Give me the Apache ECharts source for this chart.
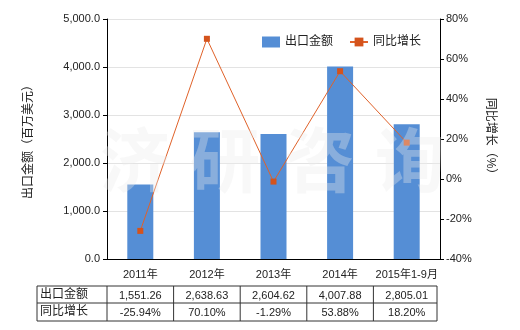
<!DOCTYPE html>
<html><head><meta charset="utf-8">
<script src="https://cdn.jsdelivr.net/npm/echarts@6/dist/echarts.min.js"></script>
<style>html,body{margin:0;padding:0;background:#fff}#c{width:520px;height:330px}</style>
</head><body><div id="c"></div>
<script>
var categories = ['2011年', '2012年', '2013年', '2014年', '2015年1-9月'];
var exportValues = [1551.26, 2638.63, 2604.62, 4007.88, 2805.01];
var growthValues = [-25.94, 70.10, -1.29, 53.88, 18.20];
var exportLabels = ['1,551.26', '2,638.63', '2,604.62', '4,007.88', '2,805.01'];
var growthLabels = ['-25.94%', '70.10%', '-1.29%', '53.88%', '18.20%'];
var seriesNames = ['出口金额', '同比增长'];
var leftAxisName = '出口金额（百万美元）';
var rightAxisName = '同比增长（%）';
var watermarkChars = ['济', '研', '咨', '询'];

var FONT = '"Liberation Sans","Noto Sans CJK SC",sans-serif';
var chart = echarts.init(document.getElementById('c'));
var option = {
  animation: false,
  backgroundColor: '#fff',
  textStyle: {fontFamily: FONT},
  grid: {left: 107, right: 80, top: 19, bottom: 71},
  legend: {
    left: 257, top: 31, itemGap: 16,
    textStyle: {fontSize: 12, color: '#222', fontFamily: FONT},
    data: [
      {name: seriesNames[0], icon: 'rect', itemStyle: {color: '#558ed5'}},
      {name: seriesNames[1]}
    ],
    itemWidth: 18, itemHeight: 11
  },
  xAxis: {
    type: 'category', data: categories,
    axisLine: {lineStyle: {color: '#000'}},
    axisTick: {alignWithLabel: true, length: 4, lineStyle: {color: '#000'}},
    axisLabel: {color: '#222', fontSize: 11, margin: 10, interval: 0, fontFamily: FONT}
  },
  yAxis: [{
    type: 'value', min: 0, max: 5000, interval: 1000,
    name: leftAxisName, nameLocation: 'middle', nameGap: 72,
    nameTextStyle: {fontSize: 12, color: '#222', fontFamily: FONT},
    axisLine: {show: true, lineStyle: {color: '#000'}},
    axisTick: {show: true, length: 4, lineStyle: {color: '#000'}},
    axisLabel: {color: '#222', fontSize: 11, margin: 7, fontFamily: FONT,
      formatter: function (v) { return v.toLocaleString('en-US', {minimumFractionDigits: 1, maximumFractionDigits: 1}); }},
    splitLine: {lineStyle: {color: '#e3e3e3'}}
  }, {
    type: 'value', min: -40, max: 80, interval: 20, position: 'right',
    name: rightAxisName, nameLocation: 'middle', nameGap: 44, nameRotate: -90,
    nameTextStyle: {fontSize: 12, color: '#222', fontFamily: FONT},
    axisLine: {show: true, lineStyle: {color: '#000'}},
    axisTick: {show: true, length: 4, lineStyle: {color: '#000'}},
    axisLabel: {color: '#222', fontSize: 11, margin: 6, fontFamily: FONT, formatter: '{value}%'},
    splitLine: {show: false}
  }],
  series: [{
    name: seriesNames[0], type: 'bar', data: exportValues, barWidth: 26,
    itemStyle: {color: '#558ed5'}
  }, {
    name: seriesNames[1], type: 'line', yAxisIndex: 1, data: growthValues,
    symbol: 'rect', symbolSize: 6,
    lineStyle: {color: '#e0622a', width: 1},
    itemStyle: {color: '#d4531c'}
  }]
};
chart.setOption(option);

// Table and watermark
var g = [];
var y0 = 286, y1 = 303, y2 = 321, xLeft = 37;
var centers = categories.map(function (c, i) { return chart.convertToPixel({xAxisIndex: 0}, i); });
var band = centers.length > 1 ? centers[1] - centers[0] : 66;
var bounds = [xLeft];
centers.forEach(function (c) { bounds.push(c - band / 2); });
bounds.push(centers[centers.length - 1] + band / 2 - 3);
var xRight = bounds[bounds.length - 1];
[y0, y1, y2].forEach(function (y) {
  g.push({type: 'line', shape: {x1: xLeft, y1: y, x2: xRight, y2: y}, style: {stroke: '#333', lineWidth: 1}});
});
bounds.forEach(function (x) {
  g.push({type: 'line', shape: {x1: x, y1: y0, x2: x, y2: y2}, style: {stroke: '#333', lineWidth: 1}});
});
var rowMid = [(y0 + y1) / 2, (y1 + y2) / 2];
[seriesNames[0], seriesNames[1]].forEach(function (t, r) {
  g.push({type: 'text', x: xLeft + 3, y: rowMid[r], style: {text: t, fill: '#222', font: '12px ' + FONT, textAlign: 'left', textVerticalAlign: 'middle'}});
});
centers.forEach(function (c, i) {
  g.push({type: 'text', x: c, y: rowMid[0] + 1, style: {text: exportLabels[i], fill: '#222', font: '11px ' + FONT, textAlign: 'center', textVerticalAlign: 'middle'}});
  g.push({type: 'text', x: c, y: rowMid[1] + 1, style: {text: growthLabels[i], fill: '#222', font: '11px ' + FONT, textAlign: 'center', textVerticalAlign: 'middle'}});
});
var wmX = [135, 225, 320, 410];
watermarkChars.forEach(function (ch, i) {
  g.push({type: 'text', x: wmX[i], y: 160, z: 100, style: {text: ch, fill: 'rgba(235,235,235,0.35)', font: 'bold 70px "Noto Sans CJK SC"', textAlign: 'center', textVerticalAlign: 'middle'}});
});
chart.setOption({graphic: g});
</script></body></html>
